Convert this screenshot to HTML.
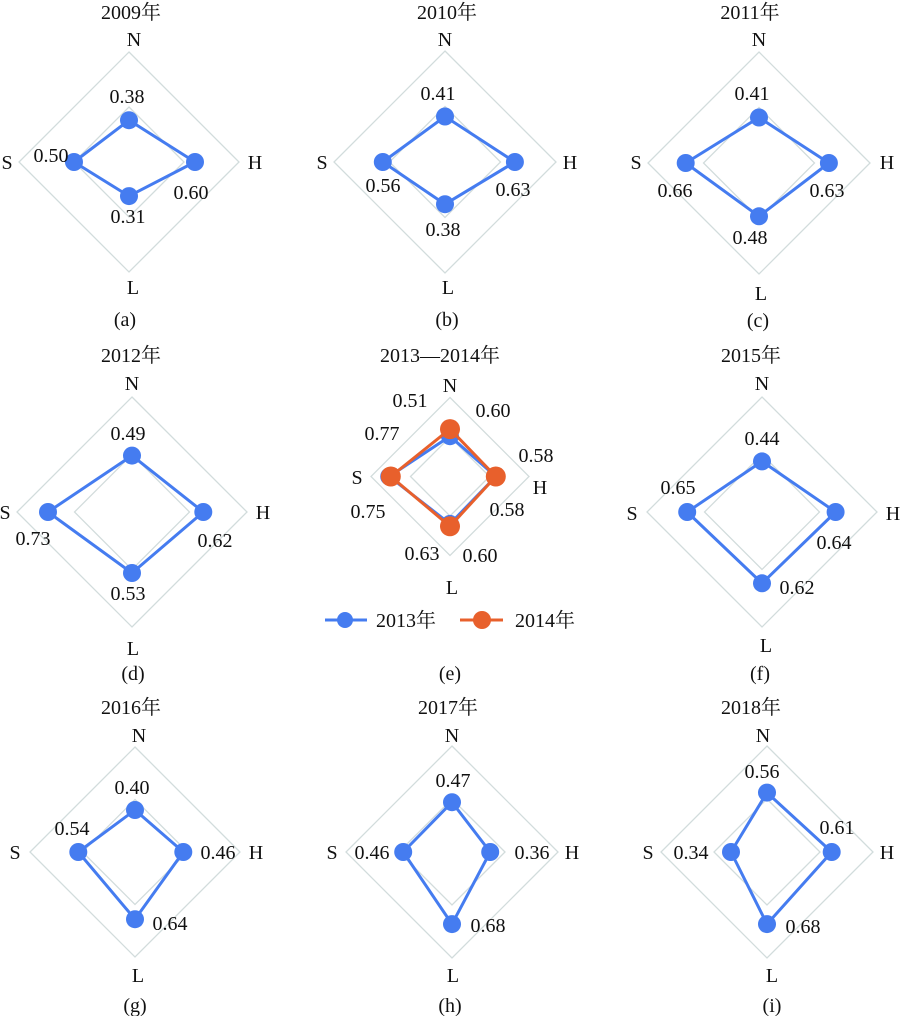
<!DOCTYPE html>
<html><head><meta charset="utf-8"><style>
html,body{margin:0;padding:0;background:#fff;}
svg{display:block;font-family:"Liberation Serif","Times New Roman",Times,serif;}
text{font-family:"Liberation Serif","Times New Roman",Times,"Noto Serif CJK SC",serif;font-size:20px;fill:#111;text-anchor:middle;}
tspan.c{font-family:"Noto Serif CJK SC","Noto Sans CJK SC",serif;}
.g{fill:none;stroke:#d2dcdc;stroke-width:1.3;}
.b{fill:none;stroke:#457cf0;stroke-width:3;stroke-linejoin:round;}
.o{fill:none;stroke:#e8602c;stroke-width:3;stroke-linejoin:round;}
.bc{fill:#457cf0;}
.oc{fill:#e8602c;}
</style></head><body>
<svg width="900" height="1016" viewBox="0 0 900 1016" xmlns="http://www.w3.org/2000/svg" font-family="Liberation Serif, Times New Roman, serif">

<!-- (a) -->
<polygon class="g" points="129,52 239,162 129,272 19,162"/>
<polygon class="g" points="129,107 184,162 129,217 74,162"/>
<polygon class="b" points="129,120.2 195,162 129,196.1 74,162"/>
<circle class="bc" cx="129" cy="120.2" r="9"/><circle class="bc" cx="195" cy="162" r="9"/><circle class="bc" cx="129" cy="196.1" r="9"/><circle class="bc" cx="74" cy="162" r="9"/>
<text x="131" y="19">2009<tspan class="c">年</tspan></text>
<text x="134" y="46">N</text>
<text x="7" y="169">S</text>
<text x="255" y="169">H</text>
<text x="133" y="294">L</text>
<text x="125" y="326">(a)</text>
<text x="127" y="103">0.38</text>
<text x="51" y="162">0.50</text>
<text x="191" y="199">0.60</text>
<text x="128" y="223">0.31</text>

<!-- (b) -->
<polygon class="g" points="445,51 556,162 445,273 334,162"/>
<polygon class="g" points="445,106.5 500.5,162 445,217.5 389.5,162"/>
<polygon class="b" points="445,116.5 514.9,162 445,204.2 382.8,162"/>
<circle class="bc" cx="445" cy="116.5" r="9"/><circle class="bc" cx="514.9" cy="162" r="9"/><circle class="bc" cx="445" cy="204.2" r="9"/><circle class="bc" cx="382.8" cy="162" r="9"/>
<text x="447" y="19">2010<tspan class="c">年</tspan></text>
<text x="445" y="46">N</text>
<text x="322" y="169">S</text>
<text x="570" y="169">H</text>
<text x="448" y="294">L</text>
<text x="447" y="326">(b)</text>
<text x="438" y="100">0.41</text>
<text x="383" y="192">0.56</text>
<text x="513" y="196">0.63</text>
<text x="443" y="236">0.38</text>

<!-- (c) -->
<polygon class="g" points="759,52 870,163 759,274 648,163"/>
<polygon class="g" points="759,107.5 814.5,163 759,218.5 703.5,163"/>
<polygon class="b" points="759,117.5 828.9,163 759,216.3 685.7,163"/>
<circle class="bc" cx="759" cy="117.5" r="9"/><circle class="bc" cx="828.9" cy="163" r="9"/><circle class="bc" cx="759" cy="216.3" r="9"/><circle class="bc" cx="685.7" cy="163" r="9"/>
<text x="750" y="19">2011<tspan class="c">年</tspan></text>
<text x="759" y="46">N</text>
<text x="636" y="169">S</text>
<text x="887" y="169">H</text>
<text x="761" y="300">L</text>
<text x="758" y="327">(c)</text>
<text x="752" y="100">0.41</text>
<text x="675" y="197">0.66</text>
<text x="827" y="197">0.63</text>
<text x="750" y="244">0.48</text>

<!-- (d) -->
<polygon class="g" points="132,397 247,512 132,627 17,512"/>
<polygon class="g" points="132,454.5 189.5,512 132,569.5 74.5,512"/>
<polygon class="b" points="132,455.6 203.3,512 132,573 48,512"/>
<circle class="bc" cx="132" cy="455.6" r="9"/><circle class="bc" cx="203.3" cy="512" r="9"/><circle class="bc" cx="132" cy="573" r="9"/><circle class="bc" cx="48" cy="512" r="9"/>
<text x="131" y="362">2012<tspan class="c">年</tspan></text>
<text x="132" y="390">N</text>
<text x="5" y="519">S</text>
<text x="263" y="519">H</text>
<text x="133" y="655">L</text>
<text x="133" y="680">(d)</text>
<text x="128" y="440">0.49</text>
<text x="33" y="545">0.73</text>
<text x="215" y="547">0.62</text>
<text x="128" y="600">0.53</text>

<!-- (e) -->
<polygon class="g" points="450,397.5 529,476.5 450,555.5 371,476.5"/>
<polygon class="g" points="450,437 489.5,476.5 450,516 410.5,476.5"/>
<polygon class="b" points="450,436.2 495.8,476.5 450,523.9 389.2,476.5"/>
<circle class="bc" cx="450" cy="436.2" r="9"/><circle class="bc" cx="495.8" cy="476.5" r="9"/><circle class="bc" cx="450" cy="523.9" r="9"/><circle class="bc" cx="389.2" cy="476.5" r="9"/>
<polygon class="o" points="450,429.1 495.8,476.5 450,526.3 390.8,476.5"/>
<circle class="oc" cx="450" cy="429.1" r="10"/><circle class="oc" cx="495.8" cy="476.5" r="10"/><circle class="oc" cx="450" cy="526.3" r="10"/><circle class="oc" cx="390.8" cy="476.5" r="10"/>
<text x="440" y="362">2013—2014<tspan class="c">年</tspan></text>
<text x="450" y="392">N</text>
<text x="357" y="484">S</text>
<text x="540" y="494">H</text>
<text x="452" y="594">L</text>
<text x="450" y="680">(e)</text>
<text x="410" y="407">0.51</text>
<text x="493" y="417">0.60</text>
<text x="382" y="440">0.77</text>
<text x="536" y="462">0.58</text>
<text x="368" y="518">0.75</text>
<text x="507" y="516">0.58</text>
<text x="422" y="560">0.63</text>
<text x="480" y="562">0.60</text>
<line x1="325" y1="620" x2="367" y2="620" stroke="#457cf0" stroke-width="3"/>
<circle class="bc" cx="345" cy="620" r="8"/>
<text x="376" y="627" style="text-anchor:start">2013<tspan class="c">年</tspan></text>
<line x1="460" y1="620" x2="503" y2="620" stroke="#e8602c" stroke-width="3"/>
<circle class="oc" cx="482" cy="620" r="9"/>
<text x="515" y="627" style="text-anchor:start">2014<tspan class="c">年</tspan></text>

<!-- (f) -->
<polygon class="g" points="762,397 877,512 762,627 647,512"/>
<polygon class="g" points="762,454.5 819.5,512 762,569.5 704.5,512"/>
<polygon class="b" points="762,461.4 835.6,512 762,583.3 687.2,512"/>
<circle class="bc" cx="762" cy="461.4" r="9"/><circle class="bc" cx="835.6" cy="512" r="9"/><circle class="bc" cx="762" cy="583.3" r="9"/><circle class="bc" cx="687.2" cy="512" r="9"/>
<text x="751" y="362">2015<tspan class="c">年</tspan></text>
<text x="762" y="390">N</text>
<text x="632" y="520">S</text>
<text x="893" y="520">H</text>
<text x="766" y="652">L</text>
<text x="760" y="680">(f)</text>
<text x="762" y="445">0.44</text>
<text x="678" y="494">0.65</text>
<text x="834" y="549">0.64</text>
<text x="797" y="594">0.62</text>

<!-- (g) -->
<polygon class="g" points="135,747 240,852 135,957 30,852"/>
<polygon class="g" points="135,799.5 187.5,852 135,904.5 82.5,852"/>
<polygon class="b" points="135,810 183.3,852 135,919.2 78.3,852"/>
<circle class="bc" cx="135" cy="810" r="9"/><circle class="bc" cx="183.3" cy="852" r="9"/><circle class="bc" cx="135" cy="919.2" r="9"/><circle class="bc" cx="78.3" cy="852" r="9"/>
<text x="131" y="714">2016<tspan class="c">年</tspan></text>
<text x="139" y="742">N</text>
<text x="15" y="859">S</text>
<text x="256" y="859">H</text>
<text x="138" y="982">L</text>
<text x="135" y="1012">(g)</text>
<text x="132" y="794">0.40</text>
<text x="72" y="835">0.54</text>
<text x="218" y="859">0.46</text>
<text x="170" y="930">0.64</text>

<!-- (h) -->
<polygon class="g" points="452,746 558,852 452,958 346,852"/>
<polygon class="g" points="452,799 505,852 452,905 399,852"/>
<polygon class="b" points="452,802.2 490.2,852 452,924.1 403.2,852"/>
<circle class="bc" cx="452" cy="802.2" r="9"/><circle class="bc" cx="490.2" cy="852" r="9"/><circle class="bc" cx="452" cy="924.1" r="9"/><circle class="bc" cx="403.2" cy="852" r="9"/>
<text x="448" y="714">2017<tspan class="c">年</tspan></text>
<text x="452" y="742">N</text>
<text x="332" y="859">S</text>
<text x="572" y="859">H</text>
<text x="453" y="982">L</text>
<text x="450" y="1012">(h)</text>
<text x="453" y="787">0.47</text>
<text x="372" y="859">0.46</text>
<text x="532" y="859">0.36</text>
<text x="488" y="932">0.68</text>

<!-- (i) -->
<polygon class="g" points="767,746 873,852 767,958 661,852"/>
<polygon class="g" points="767,799 820,852 767,905 714,852"/>
<polygon class="b" points="767,792.6 831.7,852 767,924.1 731,852"/>
<circle class="bc" cx="767" cy="792.6" r="9"/><circle class="bc" cx="831.7" cy="852" r="9"/><circle class="bc" cx="767" cy="924.1" r="9"/><circle class="bc" cx="731" cy="852" r="9"/>
<text x="751" y="714">2018<tspan class="c">年</tspan></text>
<text x="763" y="742">N</text>
<text x="648" y="859">S</text>
<text x="887" y="859">H</text>
<text x="772" y="982">L</text>
<text x="772" y="1012">(i)</text>
<text x="762" y="778">0.56</text>
<text x="691" y="859">0.34</text>
<text x="837" y="834">0.61</text>
<text x="803" y="933">0.68</text>

</svg>
</body></html>
